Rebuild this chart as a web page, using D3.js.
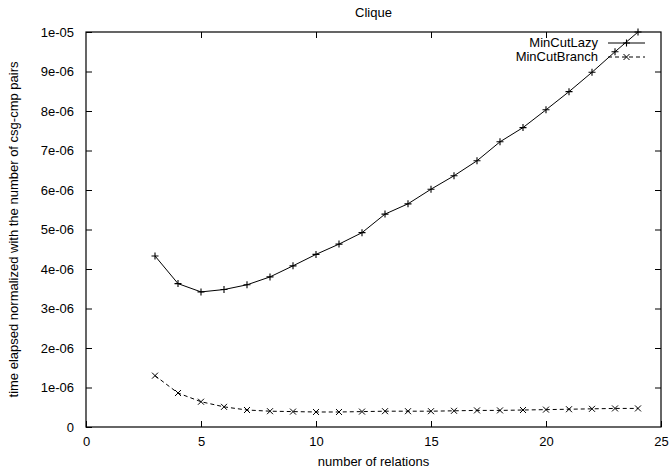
<!DOCTYPE html>
<html lang="en">
<head>
<meta charset="UTF-8">
<title>Clique</title>
<script src="https://d3js.org/d3.v7.min.js"></script>
<style>
    body { margin: 0; background: #fff; }
    svg { display: block; }
    text { font-family: "Liberation Sans", Arial, sans-serif; font-size: 13px; fill: #000; }
</style>
</head>
<body>
<div id="chart"></div>
<script>
    // data
    const relations = [3, 4, 5, 6, 7, 8, 9, 10, 11, 12, 13, 14, 15, 16, 17, 18, 19, 20, 21, 22, 23, 24];
    const minCutLazy = [4.33, 3.63, 3.42, 3.48, 3.60, 3.80, 4.08, 4.37, 4.63, 4.92, 5.39, 5.65,
                        6.02, 6.36, 6.74, 7.22, 7.58, 8.03, 8.49, 8.98, 9.50, 10.0].map(v => v * 1e-6);
    const minCutBranch = [1.30, 0.86, 0.64, 0.51, 0.43, 0.40, 0.39, 0.38, 0.38, 0.39, 0.40, 0.40,
                          0.40, 0.41, 0.42, 0.42, 0.43, 0.44, 0.45, 0.46, 0.47, 0.47].map(v => v * 1e-6);
    const xTicks = [0, 5, 10, 15, 20, 25];
    const yTicks = [0, 1e-6, 2e-6, 3e-6, 4e-6, 5e-6, 6e-6, 7e-6, 8e-6, 9e-6, 1e-5];
    const yTickLabels = ["0", "1e-06", "2e-06", "3e-06", "4e-06", "5e-06", "6e-06", "7e-06", "8e-06", "9e-06", "1e-05"];

    const width = 669, height = 472;
    const margin = {top: 32, right: 8, bottom: 45, left: 86};

    const svg = d3.select("#chart").append("svg")
        .attr("width", width)
        .attr("height", height);

    const x = d3.scaleLinear().domain([0, 25]).range([margin.left, width - margin.right]);
    const y = d3.scaleLinear().domain([0, 1e-5]).range([height - margin.bottom, margin.top]);

    const tickLen = 6;

    // axes with inward ticks, mirrored on top and right
    const g = svg.append("g");
    g.append("g")
        .attr("transform", `translate(0,${y(0)})`)
        .call(d3.axisBottom(x).tickValues(xTicks).tickSize(-tickLen).tickPadding(10))
        .call(a => a.select(".domain").remove());
    g.append("g")
        .attr("transform", `translate(0,${y(1e-5)})`)
        .call(d3.axisTop(x).tickValues(xTicks.slice(1, -1)).tickSize(-tickLen).tickFormat(""))
        .call(a => a.select(".domain").remove());
    g.append("g")
        .attr("transform", `translate(${x(0)},0)`)
        .call(d3.axisLeft(y).tickValues(yTicks).tickSize(-tickLen).tickPadding(12)
            .tickFormat((d, i) => yTickLabels[i]))
        .call(a => a.select(".domain").remove());
    g.append("g")
        .attr("transform", `translate(${x(25)},0)`)
        .call(d3.axisRight(y).tickValues(yTicks.slice(1, -1)).tickSize(-tickLen).tickFormat(""))
        .call(a => a.select(".domain").remove());
    g.selectAll(".tick line").attr("stroke", "#000");
    g.selectAll(".tick text").style("font-size", "13px").style("font-family", "'Liberation Sans', Arial, sans-serif");

    svg.append("rect")
        .attr("x", x(0)).attr("y", y(1e-5))
        .attr("width", x(25) - x(0)).attr("height", y(0) - y(1e-5))
        .attr("fill", "none").attr("stroke", "#000").attr("stroke-width", 1.2);

    // titles
    svg.append("text")
        .attr("x", (x(0) + x(25)) / 2).attr("y", 17)
        .attr("text-anchor", "middle")
        .text("Clique");
    svg.append("text")
        .attr("x", (x(0) + x(25)) / 2).attr("y", 466)
        .attr("text-anchor", "middle")
        .text("number of relations");
    svg.append("text")
        .attr("transform", `translate(18,${(y(0) + y(1e-5)) / 2}) rotate(-90)`)
        .attr("text-anchor", "middle")
        .text("time elapsed normalized with the number of csg-cmp pairs");

    const line = d3.line().x(d => x(d[0])).y(d => y(d[1]));
    const lazy = relations.map((r, i) => [r, minCutLazy[i]]);
    const branch = relations.map((r, i) => [r, minCutBranch[i]]);

    const s = 3.5;
    const plus = (sel, px, py) => sel.append("path")
        .attr("d", `M${px - s},${py}H${px + s}M${px},${py - s}V${py + s}`)
        .attr("stroke", "#000").attr("stroke-width", 1.1);
    const cross = (sel, px, py) => sel.append("path")
        .attr("d", `M${px - 3},${py - 3}L${px + 3},${py + 3}M${px - 3},${py + 3}L${px + 3},${py - 3}`)
        .attr("stroke", "#000").attr("stroke-width", 1);

    svg.append("path").datum(lazy)
        .attr("d", line).attr("fill", "none").attr("stroke", "#000").attr("stroke-width", 1);
    const pl = svg.append("g");
    lazy.forEach(d => plus(pl, x(d[0]), y(d[1])));

    svg.append("path").datum(branch)
        .attr("d", line).attr("fill", "none").attr("stroke", "#000").attr("stroke-width", 1)
        .attr("stroke-dasharray", "4,3");
    const pb = svg.append("g");
    branch.forEach(d => cross(pb, x(d[0]), y(d[1])));

    // legend
    const legend = svg.append("g");
    const lx0 = 608, lx1 = 645, textRight = 598;
    legend.append("text").attr("x", textRight).attr("y", 47).attr("text-anchor", "end").text("MinCutLazy");
    legend.append("line").attr("x1", lx0).attr("x2", lx1).attr("y1", 43).attr("y2", 43)
        .attr("stroke", "#000");
    plus(legend, (lx0 + lx1) / 2, 43);
    legend.append("text").attr("x", textRight).attr("y", 61).attr("text-anchor", "end").text("MinCutBranch");
    legend.append("line").attr("x1", lx0).attr("x2", lx1).attr("y1", 57).attr("y2", 57)
        .attr("stroke", "#000").attr("stroke-dasharray", "4,3");
    cross(legend, (lx0 + lx1) / 2, 57);
</script>
</body>
</html>
